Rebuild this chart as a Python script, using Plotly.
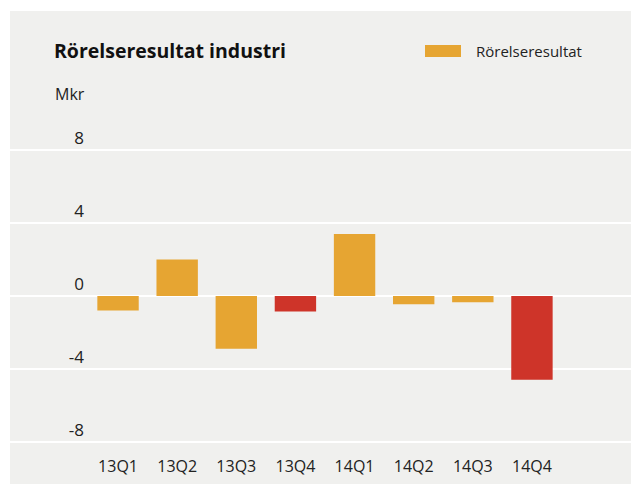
import plotly.graph_objects as go

categories = ["13Q1", "13Q2", "13Q3", "13Q4", "14Q1", "14Q2", "14Q3", "14Q4"]
values = [-0.8, 2.0, -2.9, -0.85, 3.4, -0.45, -0.35, -4.6]
bar_colors = ["#E6A532", "#E6A532", "#E6A532", "#CE3429", "#E6A532", "#E6A532", "#E6A532", "#CE3429"]
y_ticks = [8, 4, 0, -4, -8]
y_tick_labels = ["8", "4", "0", "-4", "-8"]

title_text = "Rörelseresultat industri"
unit_text = "Mkr"
legend_text = "Rörelseresultat"

W, H = 631, 485
L, R, T, B = 10, 0, 11, 30
pw, ph = W - L - R, H - T - B

def px(x):
    return (x - L) / pw

def py(y):
    return (H - B - y) / ph

BG = "#F0F0EE"
TXT = "#222222"
FONT = "Open Sans"

fig = go.Figure()
fig.add_trace(go.Bar(
    x=list(range(len(categories))),
    y=values,
    marker=dict(color=bar_colors, line=dict(width=0)),
    width=0.7,
    showlegend=False,
    hoverinfo="x+y",
))

fig.update_layout(
    width=W, height=H,
    margin=dict(l=L, r=R, t=T, b=B, pad=0),
    paper_bgcolor="white",
    plot_bgcolor=BG,
    font=dict(family=FONT, color=TXT, size=15),
    showlegend=False,
    xaxis=dict(
        range=[-1.827, 8.675],
        tickmode="array",
        tickvals=list(range(len(categories))),
        ticktext=categories,
        showgrid=False, zeroline=False, showline=False,
        ticks="", tickfont=dict(size=16, color=TXT, family=FONT),
        fixedrange=True,
    ),
    yaxis=dict(
        range=[-8.74, 15.66],
        tickmode="array",
        tickvals=y_ticks,
        ticktext=y_tick_labels,
        showgrid=True, gridcolor="white", gridwidth=2,
        zeroline=False, showline=False, ticks="",
        anchor="free", position=px(84),
        ticklabelposition="outside top",
        tickfont=dict(size=17, color=TXT, family=FONT),
        fixedrange=True,
    ),
    shapes=[
        dict(type="rect", xref="paper", yref="paper",
             x0=0, x1=1, y0=py(484), y1=0,
             fillcolor=BG, line=dict(width=0), layer="below"),
        dict(type="rect", xref="paper", yref="paper",
             x0=px(425), x1=px(461), y0=py(57), y1=py(45),
             fillcolor="#E6A532", line=dict(width=0)),
    ],
    annotations=[
        dict(text="<b>" + title_text + "</b>", xref="paper", yref="paper",
             x=px(52), y=py(51), xanchor="left", yanchor="middle",
             showarrow=False, font=dict(size=19.5, color="#111111", family=FONT)),
        dict(text=unit_text, xref="paper", yref="paper",
             x=px(53), y=py(94), xanchor="left", yanchor="middle",
             showarrow=False, font=dict(size=16, color=TXT, family=FONT)),
        dict(text=legend_text, xref="paper", yref="paper",
             x=px(474), y=py(51), xanchor="left", yanchor="middle",
             showarrow=False, font=dict(size=15, color=TXT, family=FONT)),
    ],
)

fig.write_html(
    "out.html",
    config={"displayModeBar": False},
    post_script="document.body.style.margin='0';document.body.style.overflow='hidden';",
)
